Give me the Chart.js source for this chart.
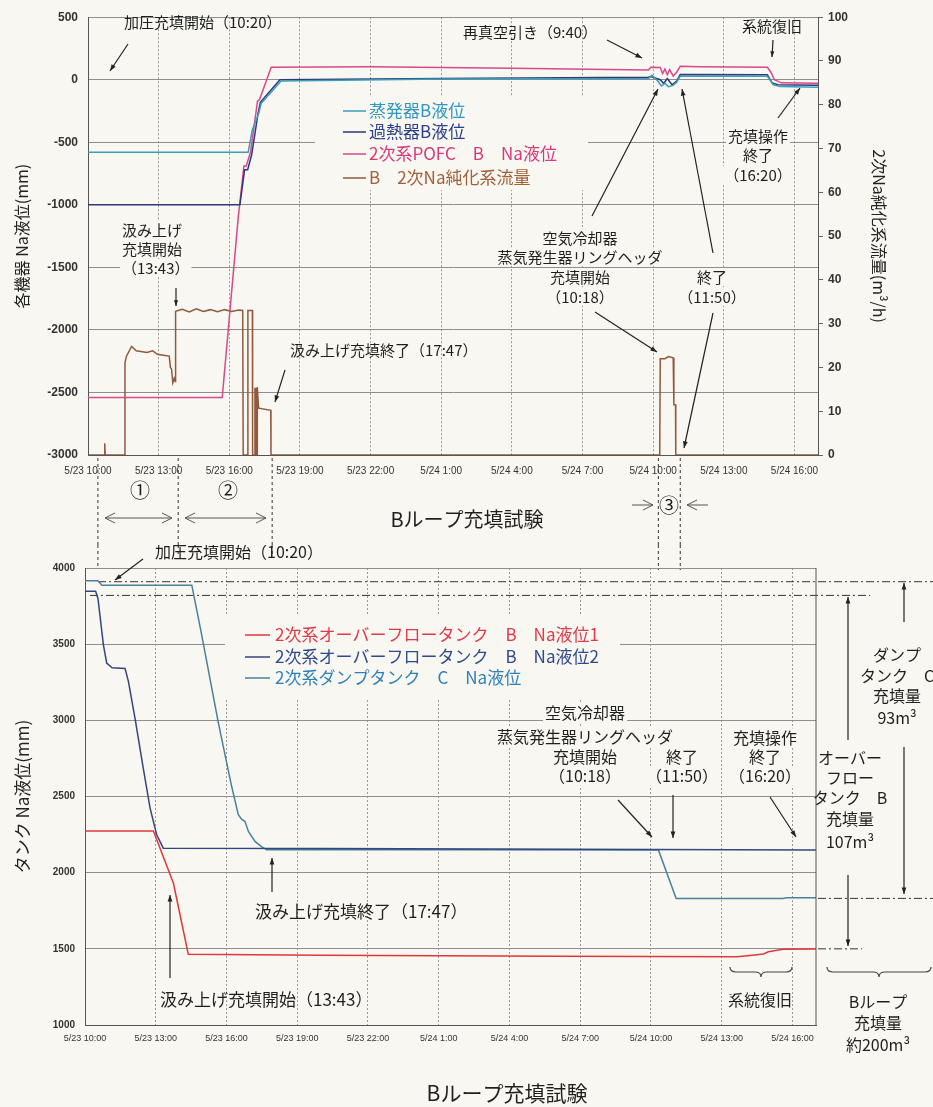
<!DOCTYPE html>
<html>
<head>
<meta charset="utf-8">
<script src="https://cdn.jsdelivr.net/npm/chart.js@4.4.1/dist/chart.umd.min.js"></script>
<style>
  body { margin: 0; background: #f8f7f1; }
  #wrap { position: relative; width: 933px; height: 1107px; overflow: hidden; }
  canvas { position: absolute; left: 0; }
  #top { top: 0; }
  #bot { top: 545px; }
</style>
</head>
<body>
<div id="wrap">
  <canvas id="top" width="933" height="545"></canvas>
  <canvas id="bot" width="933" height="562"></canvas>
</div>
<script>
// time axis: hours since 5/23 10:00
const START_HOUR = 10;

// --- top chart: [hours, mm] / [hours, m3/h]
const evapLevel = [[0,-580],[6.80,-580],[6.98,-400],[7.25,-270],[7.35,-190],[8.2,-10],[15,5],[23.8,10],[23.95,36],[24.2,-10],[24.35,-50],[24.5,-30],[24.65,-55],[24.85,-45],[25.0,-20],[25.15,28],[28.85,28],[29.1,-40],[29.4,-55],[31,-60]];
const superLevel = [[0,-1000],[6.45,-1000],[6.65,-720],[6.78,-720],[6.95,-600],[7.22,-270],[7.32,-180],[8.15,0],[15,10],[23.8,20],[23.9,25],[24.3,0],[24.45,-30],[24.6,10],[24.8,-40],[25.0,-10],[25.15,42],[28.85,40],[29.05,-25],[29.3,-40],[31,-45]];
const pofcLevel = [[0,-2540],[5.70,-2540],[6.38,-1100],[6.62,-690],[6.72,-690],[6.90,-580],[7.20,-170],[7.28,-160],[7.78,100],[12,103],[18,92],[23.8,78],[23.9,100],[24.3,98],[24.4,50],[24.5,85],[24.6,40],[24.7,80],[24.85,30],[25.0,60],[25.15,108],[26,104],[28.85,100],[29.0,60],[29.15,0],[29.45,-25],[31,-28]];
const flowRate = [[0,0],[0.70,0],[0.71,2.7],[0.73,0],[1.56,0],[1.57,21],[1.63,22.5],[1.85,24.8],[2.05,23.8],[2.5,23.4],[2.75,23.8],[2.95,23],[3.2,22.8],[3.45,22.6],[3.50,20],[3.55,19.6],[3.60,16.5],[3.66,17.5],[3.70,16.8],[3.72,32.8],[4.0,33.3],[4.3,32.7],[4.6,33.4],[4.9,32.8],[5.2,33.2],[5.5,32.7],[5.8,33.2],[6.1,32.8],[6.4,33.1],[6.57,33],[6.59,0],[6.78,0],[6.79,33],[6.98,33],[6.99,0],[7.08,0],[7.09,15.2],[7.13,15.2],[7.14,0],[7.18,0],[7.19,15.5],[7.24,11],[7.25,10.7],[7.76,10.2],[7.77,0],[24.28,0],[24.3,22],[24.5,22],[24.65,22.5],[24.85,22.2],[24.88,11.5],[24.95,11.5],[24.96,0],[31,0]];

// --- bottom chart: [hours, mm]
const level1 = [[0,2273],[2.9,2273],[3.75,1930],[4.38,1465],[10,1458],[20,1452],[27.65,1448],[28.3,1458],[28.77,1466],[28.98,1481],[29.61,1497],[31,1499]];
const level2 = [[0,3847],[0.45,3847],[0.55,3800],[0.78,3496],[0.92,3376],[1.15,3345],[1.70,3340],[1.84,3256],[2.12,3015],[2.47,2687],[2.76,2424],[3.04,2249],[3.32,2161],[10,2158],[24,2152],[31,2148]];
const dumpC = [[0,3917],[0.55,3917],[0.72,3887],[4.53,3887],[4.95,3560],[5.66,2980],[6.2,2580],[6.5,2380],[6.65,2350],[6.78,2337],[6.93,2271],[7.21,2205],[7.5,2170],[7.71,2150],[15,2150],[24.32,2148],[25.07,1831],[29.6,1831],[29.75,1836],[31,1836]];

// reference levels (dash-dot guides)
const dumpFull = 3910, ofFull = 3820, dumpEnd = 1831, ofEnd = 1500;
// event times joining both charts
const connectorHours = [0.42, 3.83, 7.82, 24.22, 25.15];

const BG = '#f8f7f1';
const INK = '#1f1f1f';
const CJK = '"Noto Sans CJK JP", sans-serif';
const SANS = '"Liberation Sans", Arial, sans-serif';

const topLegendY = [111, 132, 154, 178];
const topLegendColors = ['#2f97c0', '#2a3f8a', '#d63a7a', '#a0603a'];
const botLegendY = [635, 657, 678];
const botLegendColors = ['#e03a4a', '#2f4a8a', '#2f80b8'];

let connectorPx = [];

function timeLabel(v) {
  const h = START_HOUR + v;
  return h < 24 ? `5/23 ${h}:00` : `5/24 ${h - 24}:00`;
}

function text(ctx, s, x, y, opt = {}) {
  const size = opt.size || 15;
  ctx.font = `${opt.weight || 'normal'} ${size}px ${opt.family || CJK}`;
  ctx.textAlign = opt.align || 'left';
  ctx.textBaseline = 'middle';
  if (opt.bg) {
    const w = ctx.measureText(s).width;
    const x0 = ctx.textAlign === 'center' ? x - w / 2 : x;
    ctx.fillStyle = BG;
    ctx.fillRect(x0 - 2, y - size * 0.6, w + 4, size * 1.2);
  }
  ctx.fillStyle = opt.color || INK;
  ctx.fillText(s, x, y);
}
function block(ctx, arr, x, ys, opt) { arr.forEach((s, i) => text(ctx, s, x, ys[i], opt)); }

function arrow(ctx, x1, y1, x2, y2, head = 7) {
  const a = Math.atan2(y2 - y1, x2 - x1);
  ctx.strokeStyle = '#222'; ctx.fillStyle = '#222'; ctx.lineWidth = 1.2;
  ctx.beginPath(); ctx.moveTo(x1, y1); ctx.lineTo(x2, y2); ctx.stroke();
  ctx.beginPath();
  ctx.moveTo(x2, y2);
  ctx.lineTo(x2 - head * Math.cos(a - 0.35), y2 - head * Math.sin(a - 0.35));
  ctx.lineTo(x2 - head * Math.cos(a + 0.35), y2 - head * Math.sin(a + 0.35));
  ctx.closePath(); ctx.fill();
}
function openHead(ctx, x, y, dir) {
  ctx.beginPath();
  ctx.moveTo(x - dir * 10, y - 5); ctx.lineTo(x, y); ctx.lineTo(x - dir * 10, y + 5);
  ctx.stroke();
}
function openArrow(ctx, x1, x2, y, both) {
  ctx.strokeStyle = '#555'; ctx.lineWidth = 1;
  ctx.beginPath(); ctx.moveTo(x1, y); ctx.lineTo(x2, y); ctx.stroke();
  const dir = x2 > x1 ? 1 : -1;
  openHead(ctx, x2, y, dir);
  if (both) openHead(ctx, x1, y, -dir);
}
function dashed(ctx, x1, y1, x2, y2, pattern) {
  ctx.save();
  ctx.strokeStyle = '#333'; ctx.lineWidth = 1;
  ctx.setLineDash(pattern);
  ctx.beginPath(); ctx.moveTo(x1, y1); ctx.lineTo(x2, y2); ctx.stroke();
  ctx.restore();
}
function brace(ctx, x1, x2, y) {
  const m = (x1 + x2) / 2;
  ctx.strokeStyle = '#444'; ctx.lineWidth = 1.2;
  ctx.beginPath();
  ctx.moveTo(x1, y - 5);
  ctx.quadraticCurveTo(x1, y, x1 + 6, y);
  ctx.lineTo(m - 6, y);
  ctx.quadraticCurveTo(m, y, m, y + 5);
  ctx.quadraticCurveTo(m, y, m + 6, y);
  ctx.lineTo(x2 - 6, y);
  ctx.quadraticCurveTo(x2, y, x2, y - 5);
  ctx.stroke();
}

const toXY = pts => pts.map(([x, y]) => ({ x, y }));
function series(label, pts, color, axis) {
  return { label, data: toXY(pts), borderColor: color, borderWidth: 1.5, pointRadius: 0, tension: 0, yAxisID: axis || 'y' };
}

function xAxis(fontSize, pad, height) {
  return {
    type: 'linear', min: 0, max: 31,
    ticks: { stepSize: 3, callback: timeLabel, maxRotation: 0, autoSkip: false, padding: pad,
             color: '#333', font: { size: fontSize, family: SANS } },
    afterBuildTicks: s => { s.ticks = s.ticks.filter(t => t.value % 3 === 0); },
    grid: { color: '#9a9a9a', drawTicks: false },
    border: { color: '#555', dash: [2, 2] },
    afterFit: s => { s.height = height; }
  };
}

const topNotes = {
  id: 'topNotes',
  beforeDatasetsDraw(chart) {
    const ctx = chart.ctx;
    ctx.save();
    ctx.fillStyle = BG;
    ctx.fillRect(315, 97, 273, 93);
    chart.data.datasets.forEach((ds, i) => {
      const y = topLegendY[i];
      ctx.strokeStyle = ds.borderColor; ctx.lineWidth = 1.5;
      ctx.beginPath(); ctx.moveTo(343, y); ctx.lineTo(366, y); ctx.stroke();
      text(ctx, ds.label, 369, y, { size: 17, color: topLegendColors[i] });
    });
    block(ctx, ['空気冷却器', '蒸気発生器リングヘッダ', '充填開始', '（10:18）'], 580, [238, 257, 277, 297], { align: 'center', bg: true });
    block(ctx, ['終了', '（11:50）'], 712, [277, 297], { align: 'center', bg: true });
    block(ctx, ['充填操作', '終了', '（16:20）'], 758, [136, 155, 175], { align: 'center', bg: true });
    block(ctx, ['汲み上げ', '充填開始', '（13:43）'], 122, [230, 249, 268], { bg: true });
    ctx.restore();
  },
  afterDraw(chart) {
    const ctx = chart.ctx;
    ctx.save();
    text(ctx, '加圧充填開始（10:20）', 124, 22);
    arrow(ctx, 128, 44, 110, 71);
    text(ctx, '再真空引き（9:40）', 463, 32);
    arrow(ctx, 607, 40, 642, 58);
    text(ctx, '系統復旧', 772, 26, { align: 'center' });
    arrow(ctx, 773, 40, 772, 57, 6);
    arrow(ctx, 778, 118, 800, 88);
    arrow(ctx, 592, 216, 658, 89);
    arrow(ctx, 595, 312, 657, 352);
    arrow(ctx, 713, 253, 682, 89);
    arrow(ctx, 713, 313, 684, 448);
    arrow(ctx, 176, 288, 176, 306, 6);
    text(ctx, '汲み上げ充填終了（17:47）', 290, 350);
    arrow(ctx, 285, 370, 275, 402);

    // connectors down to the lower chart
    const xs = chart.scales.x;
    connectorPx = connectorHours.map(h => xs.getPixelForValue(h));
    connectorPx.forEach(x => dashed(ctx, x, 458, x, 545, [3, 3]));

    text(ctx, '①', 140, 490, { size: 20, align: 'center' });
    openArrow(ctx, 105, 172, 518, true);
    text(ctx, '②', 228, 490, { size: 20, align: 'center' });
    openArrow(ctx, 185, 266, 518, true);
    text(ctx, '③', 669, 505, { size: 20, align: 'center' });
    openArrow(ctx, 632, 653, 505, false);
    openArrow(ctx, 708, 687, 505, false);
    text(ctx, 'Bループ充填試験', 467, 519, { size: 20, align: 'center' });
    ctx.restore();
  }
};

const botNotes = {
  id: 'botNotes',
  beforeDatasetsDraw(chart) {
    const ctx = chart.ctx;
    ctx.save();
    ctx.translate(0, -545);
    ctx.fillStyle = BG;
    ctx.fillRect(225, 614, 395, 86);
    chart.data.datasets.forEach((ds, i) => {
      const y = botLegendY[i];
      ctx.strokeStyle = ds.borderColor; ctx.lineWidth = 1.5;
      ctx.beginPath(); ctx.moveTo(245, y); ctx.lineTo(270, y); ctx.stroke();
      text(ctx, ds.label, 275, y, { size: 17, color: botLegendColors[i] });
    });
    block(ctx, ['空気冷却器', '蒸気発生器リングヘッダ', '充填開始', '（10:18）'], 585, [713, 737, 757, 776], { size: 16, align: 'center', bg: true });
    block(ctx, ['終了', '（11:50）'], 682, [757, 776], { size: 16, align: 'center', bg: true });
    block(ctx, ['充填操作', '終了', '（16:20）'], 765, [738, 757, 776], { size: 16, align: 'center', bg: true });

    // dash-dot reference levels
    const ys = chart.scales.y;
    const yOf = v => ys.getPixelForValue(v) + 545;
    const dd = [8, 3, 2, 3];
    dashed(ctx, 98, yOf(dumpFull), 933, yOf(dumpFull), dd);
    dashed(ctx, 90, yOf(ofFull), 870, yOf(ofFull), dd);
    dashed(ctx, 818, yOf(dumpEnd), 933, yOf(dumpEnd), dd);
    dashed(ctx, 818, yOf(ofEnd), 862, yOf(ofEnd), dd);
    ctx.restore();
  },
  afterDraw(chart) {
    const ctx = chart.ctx;
    const a = chart.chartArea;
    ctx.save();
    ctx.strokeStyle = '#555'; ctx.lineWidth = 1;
    ctx.beginPath(); ctx.moveTo(a.right, a.top); ctx.lineTo(a.right, a.bottom); ctx.stroke();
    ctx.translate(0, -545);

    const ends = [568, 556, 556, 570, 570];
    connectorPx.forEach((x, i) => dashed(ctx, x, 545, x, ends[i], [3, 3]));

    text(ctx, '加圧充填開始（10:20）', 155, 552, { size: 16 });
    arrow(ctx, 143, 559, 115, 580);
    arrow(ctx, 618, 800, 652, 837);
    arrow(ctx, 673, 795, 673, 838);
    arrow(ctx, 770, 797, 796, 837);

    block(ctx, ['オーバー', 'フロー', 'タンク　B', '充填量', '107m³'], 850, [758, 778, 798, 819, 842], { size: 16, align: 'center' });
    block(ctx, ['ダンプ', 'タンク　C', '充填量', '93m³'], 897, [655, 676, 696, 718], { size: 16, align: 'center' });
    arrow(ctx, 904, 622, 904, 583);
    arrow(ctx, 904, 747, 904, 894);
    arrow(ctx, 848, 740, 848, 597);
    arrow(ctx, 848, 875, 848, 946);

    brace(ctx, 730, 792, 972);
    text(ctx, '系統復旧', 760, 1000, { size: 16, align: 'center' });
    brace(ctx, 827, 931, 972);
    block(ctx, ['Bループ', '充填量', '約200m³'], 878, [1002, 1023, 1045], { size: 16, align: 'center' });

    text(ctx, '汲み上げ充填終了（17:47）', 255, 912, { size: 17 });
    arrow(ctx, 272, 892, 272, 858);
    text(ctx, '汲み上げ充填開始（13:43）', 160, 1000, { size: 17 });
    arrow(ctx, 170, 978, 170, 895);

    text(ctx, 'Bループ充填試験', 507, 1093, { size: 21, align: 'center' });
    ctx.restore();
  }
};

const plainNumber = v => String(v);

new Chart(document.getElementById('top'), {
  type: 'line',
  data: {
    datasets: [
      series('蒸発器B液位', evapLevel, '#3d9db8'),
      series('過熱器B液位', superLevel, '#2b3a78'),
      series('2次系POFC　B　Na液位', pofcLevel, '#d9488a'),
      series('B　2次Na純化系流量', flowRate, '#8f5a3e', 'y1'),
    ]
  },
  options: {
    responsive: false,
    animation: false,
    layout: { padding: { top: 13, left: 0, right: 0, bottom: 0 } },
    plugins: { legend: { display: false }, tooltip: { enabled: false } },
    scales: {
      x: xAxis(10, 10, 90),
      y: {
        min: -3000, max: 500,
        ticks: { stepSize: 500, padding: 10, callback: plainNumber, color: '#333', font: { size: 12, weight: 'bold', family: SANS } },
        grid: { color: '#8e8e8e', drawTicks: false },
        border: { color: '#555' },
        title: { display: true, text: '各機器 Na液位(mm)', color: '#222', font: { size: 16, family: CJK }, padding: { top: 12, bottom: 0 } },
        afterFit: s => { s.width = 88; }
      },
      y1: {
        position: 'right',
        min: 0, max: 100,
        ticks: { stepSize: 10, padding: 5, callback: plainNumber, color: '#333', font: { size: 12, weight: 'bold', family: SANS } },
        grid: { drawOnChartArea: false, tickLength: 5, color: '#666' },
        border: { color: '#555' },
        title: { display: true, text: '2次Na純化系流量(m³/h)', color: '#222', font: { size: 16, family: CJK }, padding: { top: 44, bottom: 0 } },
        afterFit: s => { s.width = 115; }
      }
    }
  },
  plugins: [topNotes]
});

new Chart(document.getElementById('bot'), {
  type: 'line',
  data: {
    datasets: [
      series('2次系オーバーフロータンク　B　Na液位1', level1, '#e0383c'),
      series('2次系オーバーフロータンク　B　Na液位2', level2, '#33467e'),
      series('2次系ダンプタンク　C　Na液位', dumpC, '#4a8199'),
    ]
  },
  options: {
    responsive: false,
    animation: false,
    layout: { padding: { top: 23, left: 0, right: 117, bottom: 0 } },
    plugins: { legend: { display: false }, tooltip: { enabled: false } },
    scales: {
      x: xAxis(9, 8, 82),
      y: {
        min: 1000, max: 4000,
        ticks: { stepSize: 500, padding: 10, callback: plainNumber, color: '#333', font: { size: 10, weight: 'bold', family: SANS } },
        grid: { color: '#8e8e8e', drawTicks: false },
        border: { color: '#555' },
        title: { display: true, text: 'タンク Na液位(mm)', color: '#222', font: { size: 17, family: CJK }, padding: { top: 12, bottom: 0 } },
        afterFit: s => { s.width = 85; }
      }
    }
  },
  plugins: [botNotes]
});
</script>
</body>
</html>
